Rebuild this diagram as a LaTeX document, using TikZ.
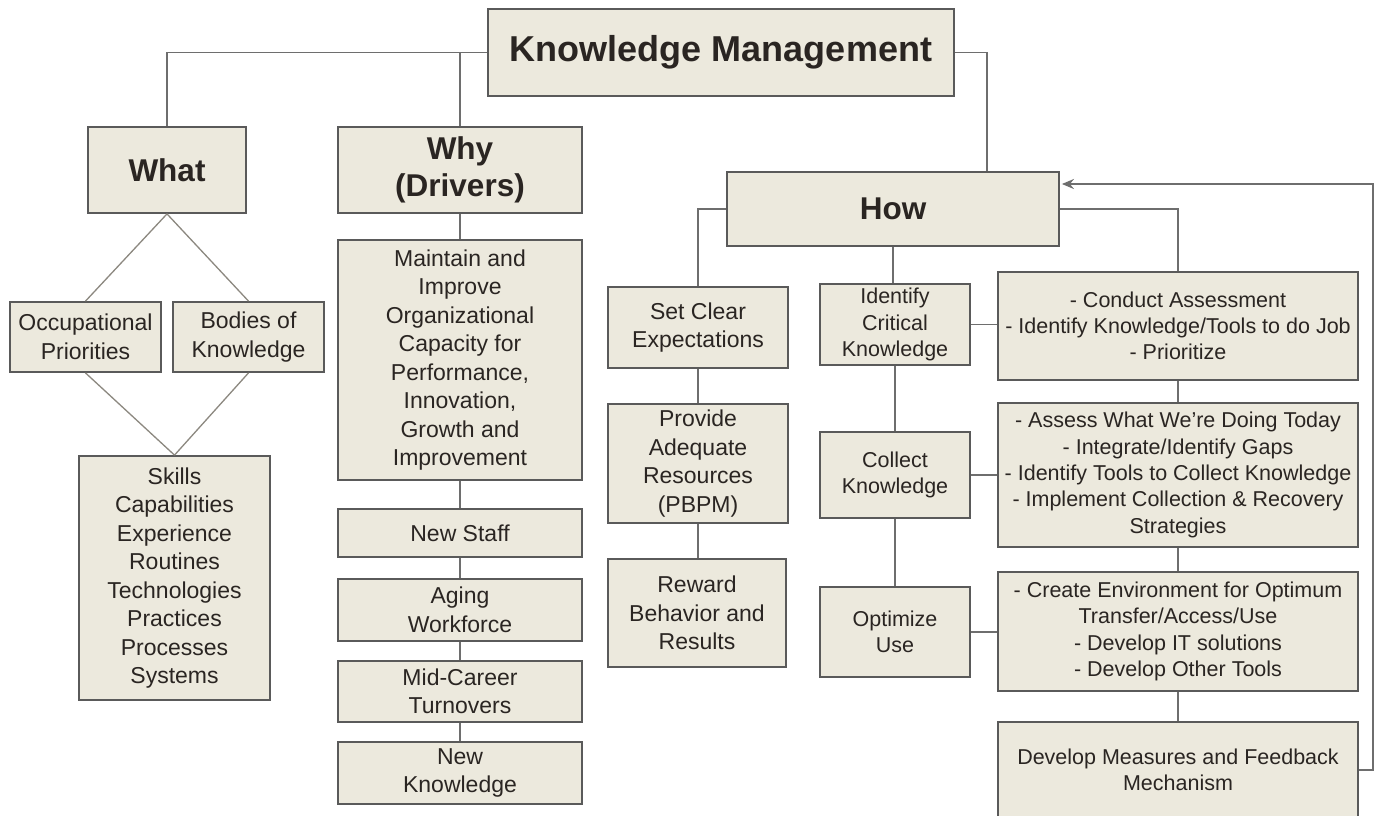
\documentclass[tikz,border=0pt]{standalone}
\usepackage{fontspec}
\setmainfont{Liberation Sans}
\usetikzlibrary{arrows.meta}
\definecolor{boxfill}{HTML}{ECE9DD}
\definecolor{boxdraw}{HTML}{5A5A5A}
\definecolor{linecol}{HTML}{6E6E6E}
\definecolor{thincol}{HTML}{8C8880}
\definecolor{txt}{HTML}{2A2522}
\tikzset{
  box/.style={draw=boxdraw, fill=boxfill, line width=1.8pt, align=center, inner sep=0pt, text=txt, font=\fontsize{23}{28.5}\selectfont},
  headbox/.style={box, font=\fontsize{31.5}{37}\selectfont\bfseries},
  smallbox/.style={box, font=\fontsize{21.5}{26.3}\selectfont},
  conn/.style={draw=linecol, line width=1.8pt},
  thinconn/.style={draw=thincol, line width=1.3pt},
}
\begin{document}
\begin{tikzpicture}[x=1pt,y=-1pt]
\useasboundingbox (0,0) rectangle (1378,815);
\fill[white] (0,0) rectangle (1378,815);
\clip (0,0) rectangle (1378,815);

% top
\node[headbox, font=\fontsize{36}{40}\selectfont\bfseries, minimum width=466pt, minimum height=87pt] (km) at (721,52.5) {Knowledge Management};

% What column
\node[headbox, minimum width=158pt, minimum height=86pt] (what) at (167,170) {What};
\node[box, minimum width=151pt, minimum height=70pt] (occ) at (85.5,337) {Occupational\\Priorities};
\node[box, minimum width=151pt, minimum height=70pt] (bod) at (248.5,337) {Bodies of\\Knowledge};
\node[box, minimum width=191pt, minimum height=244pt] (skills) at (174.5,578) {Skills\\Capabilities\\Experience\\Routines\\Technologies\\Practices\\Processes\\Systems};

% Why column
\node[headbox, minimum width=244pt, minimum height=86pt] (why) at (460,170) {Why\\(Drivers)};
\node[box, minimum width=244pt, minimum height=240pt] (maint) at (460,360) {Maintain and\\Improve\\Organizational\\Capacity for\\Performance,\\Innovation,\\Growth and\\Improvement};
\node[box, minimum width=244pt, minimum height=48pt] (staff) at (460,533) {New Staff};
\node[box, minimum width=244pt, minimum height=62pt] (aging) at (460,610) {Aging\\Workforce};
\node[box, minimum width=244pt, minimum height=61pt] (mid) at (460,691.5) {Mid-Career\\Turnovers};
\node[box, minimum width=244pt, minimum height=62pt] (newk) at (460,773) {New\\Knowledge};

% How
\node[headbox, minimum width=332pt, minimum height=74pt] (how) at (893,209) {How};
\node[box, minimum width=180pt, minimum height=81pt] (clear) at (698,327.5) {Set Clear\\Expectations};
\node[box, minimum width=180pt, minimum height=119pt] (prov) at (698,463.5) {Provide\\Adequate\\Resources\\(PBPM)};
\node[box, minimum width=178pt, minimum height=108pt] (rew) at (697,613) {Reward\\Behavior and\\Results};

\node[smallbox, minimum width=150pt, minimum height=81pt] (crit) at (895,324.5) {Identify\\Critical\\Knowledge};
\node[smallbox, minimum width=150pt, minimum height=86pt] (coll) at (895,475) {Collect\\Knowledge};
\node[smallbox, minimum width=150pt, minimum height=90pt] (opt) at (895,632) {Optimize\\Use};

\node[smallbox, minimum width=360pt, minimum height=108pt] (cond) at (1178,326) {- Conduct Assessment\\- Identify Knowledge/Tools to do Job\\- Prioritize};
\node[smallbox, minimum width=360pt, minimum height=144pt] (assess) at (1178,475) {- Assess What We’re Doing Today\\- Integrate/Identify Gaps\\- Identify Tools to Collect Knowledge\\- Implement Collection \& Recovery\\Strategies};
\node[smallbox, minimum width=360pt, minimum height=119pt] (create) at (1178,631.5) {- Create Environment for Optimum\\Transfer/Access/Use\\- Develop IT solutions\\- Develop Other Tools};
\node[smallbox, minimum width=360pt, minimum height=96pt] (dev) at (1178,770) {Develop Measures and Feedback\\Mechanism};

% connectors
\coordinate (kmr) at (987,52.5);
\coordinate (fb) at (1373,184);
\draw[conn] (km.west) -| (what.north);
\draw[conn] (km.west -| why.north) -- (why.north);
\draw[conn] (km.east) -- (kmr) -- (kmr |- how.north);

\draw[thinconn] (what.south) -- (occ.north);
\draw[thinconn] (what.south) -- (bod.north);
\draw[thinconn] (occ.south) -- (skills.north);
\draw[thinconn] (bod.south) -- (skills.north);

\draw[conn] (why.south) -- (maint.north);
\draw[conn] (maint.south) -- (staff.north);
\draw[conn] (staff.south) -- (aging.north);
\draw[conn] (aging.south) -- (mid.north);
\draw[conn] (mid.south) -- (newk.north);

\draw[conn] (how.west) -| (clear.north);
\draw[conn] (clear.south) -- (prov.north);
\draw[conn] (prov.south) -- (rew.north -| prov.south);

\draw[conn] (how.south) -- (crit.north -| how.south);
\draw[conn] (crit.south) -- (coll.north);
\draw[conn] (coll.south) -- (opt.north);

\draw[conn] (how.east) -| (cond.north);
\draw[conn] (crit.east) -- (crit.east -| cond.west);
\draw[conn] (coll.east) -- (assess.west);
\draw[conn] (opt.east) -- (opt.east -| create.west);
\draw[conn] (cond.south) -- (assess.north);
\draw[conn] (assess.south) -- (create.north);
\draw[conn] (create.south) -- (dev.north);

\draw[conn, -{Stealth[length=12pt,width=10pt,inset=4pt]}, shorten >=2pt] (dev.east) -| (fb) -- (fb -| how.east);
\end{tikzpicture}
\end{document}
